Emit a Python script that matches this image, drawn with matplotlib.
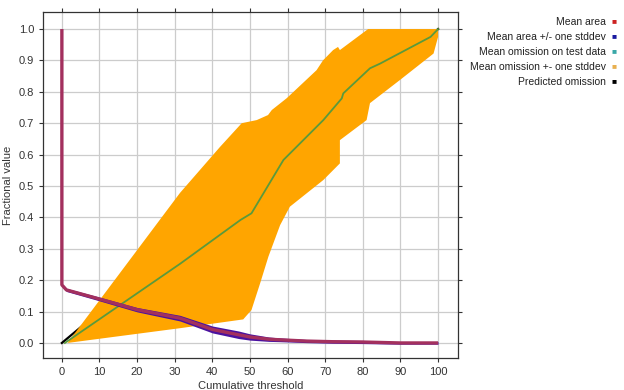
"""
Omission / predicted area vs cumulative threshold (Maxent style).
values read off the reference picture.
"""
import numpy as np
import matplotlib; matplotlib.use("Agg"); import matplotlib.pyplot as plt

plt.rcParams["font.family"] = ["Liberation Sans", "DejaVu Sans"]

# mean area (+/- one stddev)
area_x  = [0, 0, 1.2, 10, 20, 31.4, 40, 47, 50, 55, 58, 65, 72, 80, 90, 100]
area_y  = [1.0, 0.185, 0.169, 0.140, 0.106, 0.079, 0.043, 0.026, 0.019, 0.012, 0.010, 0.006, 0.004, 0.003, 0.0, 0.0]
area_sd = [0.0, 0.0, 0.001, 0.002, 0.003, 0.005, 0.007, 0.008, 0.006, 0.003, 0.002, 0.001, 0.001, 0.001, 0.0, 0.0]

# mean omission on test data
om_x = [0.8, 31.4, 47.5, 50.4, 58.9, 69.5, 74.4, 74.8, 81.9, 84.6, 98, 100]
om_y = [0.0, 0.252, 0.392, 0.413, 0.583, 0.710, 0.779, 0.795, 0.875, 0.890, 0.975, 1.0]

# omission +- one stddev : upper and lower edges
up_x = [1.5, 31.4, 42.0, 47.8, 51.8, 54.8, 55.8, 59.8, 67.7, 69.4, 72.1, 73.4, 73.9, 81.4, 100]
up_y = [0.0, 0.478, 0.624, 0.700, 0.710, 0.726, 0.742, 0.780, 0.869, 0.900, 0.933, 0.943, 0.933, 1.0, 1.0]
lo_x = [1.5, 31.4, 48.2, 50.4, 52.7, 54.9, 58.0, 60.6, 69.5, 73.9, 73.9, 81.0, 81.9, 89.9, 98.8, 100]
lo_y = [0.0, 0.047, 0.075, 0.105, 0.190, 0.275, 0.375, 0.434, 0.519, 0.572, 0.646, 0.710, 0.764, 0.838, 0.922, 0.975]

# predicted omission
pred_x = [0, 100]
pred_y = [0.0, 1.0]

ticks_x = np.arange(0, 101, 10)
ticks_y = np.round(np.arange(0, 1.01, 0.1), 1)

fig = plt.figure(figsize=(6.24, 3.9), dpi=100)
ax = fig.add_axes([0.069, 0.082, 0.665, 0.887])

ax.plot(pred_x, pred_y, color="black", lw=1.6, zorder=2)
band_x = up_x + lo_x[::-1]
band_y = up_y + lo_y[::-1]
ax.fill(band_x, band_y, color="#ffa500", lw=0, zorder=3)
ax.plot(om_x, om_y, color="#5a9a3c", lw=1.3, zorder=4)

ax_ = np.array(area_x); ay = np.array(area_y); sd = np.array(area_sd)
ax.fill_between(ax_, ay - sd - 0.004, ay + sd + 0.004, color="#4a12a0", lw=0, zorder=5)
ax.plot(area_x, area_y, color="#a3305e", lw=2.4, zorder=6, solid_capstyle="butt")

ax.set_xlim(-5, 105.3)
ax.set_ylim(-0.048, 1.054)
ax.set_xticks(ticks_x); ax.set_yticks(ticks_y)
ax.set_xticklabels([str(t) for t in ticks_x], fontsize=8, color="#333333")
ax.set_yticklabels([f"{t:.1f}" for t in ticks_y], fontsize=8, color="#333333")
ax.tick_params(axis="both", which="both", length=3, width=0.8, color="#333333",
               top=True, right=True, labeltop=False, labelright=False, direction="out")
ax.tick_params(axis="x", which="both", top=True)
ax.grid(color="#cccccc", lw=0.9, zorder=0)
ax.set_axisbelow(True)
for s in ax.spines.values():
    s.set_color("#333333"); s.set_linewidth(0.9)
ax.set_xlabel("Cumulative threshold", fontsize=8, color="#333333", labelpad=3)
ax.set_ylabel("Fractional value", fontsize=8, color="#333333", labelpad=4)

# legend (text right-aligned, square marker on the right)
labels = ["Mean area", "Mean area +/- one stddev", "Mean omission on test data",
          "Mean omission +- one stddev", "Predicted omission"]
cols = ["#cc2222", "#1a1aa0", "#3aa8a8", "#e8b050", "black"]
for i, (lab, c) in enumerate(zip(labels, cols)):
    yy = 1 - (22 + 15 * i) / 390
    fig.text(606 / 624, yy, lab, ha="right", va="center", fontsize=7.5, color="#222222")
    fig.text(614 / 624, yy, "\u25a0", ha="center", va="center", fontsize=6, color=c)

fig.savefig("out.png", dpi=100)
